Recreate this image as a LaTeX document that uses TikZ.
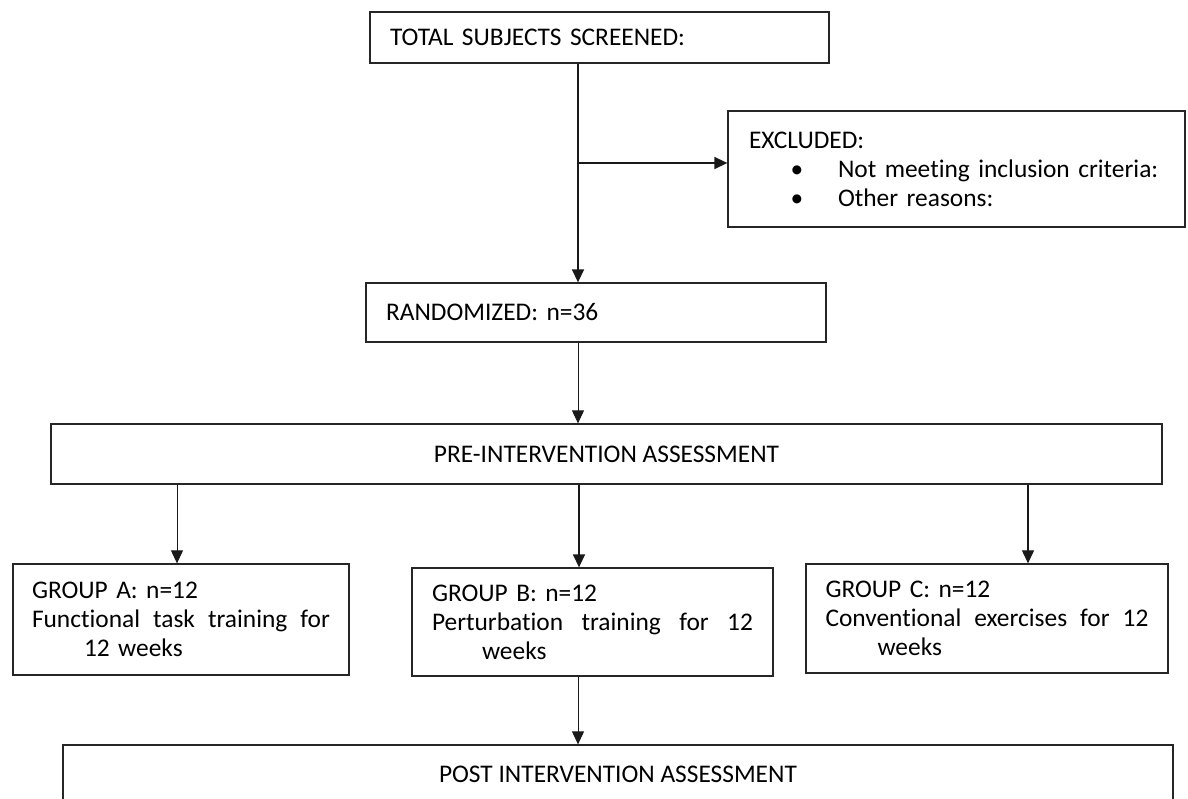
\documentclass[tikz,border=0pt]{standalone}
\usepackage{fontspec}
\setmainfont{Carlito}[Ligatures=NoCommon]
\usetikzlibrary{arrows.meta}
\tikzset{
  box/.style={draw=black!85, line width=1.3pt, rectangle, inner sep=0pt, align=left,
    font=\fontsize{25.4}{29}\selectfont},
  arr/.style={draw=black!90, line width=#1, -{Triangle[length=13pt,width=12pt]}},
  arr/.default=1.4pt
}
\begin{document}
\begin{tikzpicture}[x=1pt,y=-1pt]
\useasboundingbox (0,0) rectangle (1188,799);
\clip (0,0) rectangle (1188,799);
\fill[white] (0,0) rectangle (1188,799);

\coordinate (spine) at (578,0);
\coordinate (xa) at (177,0);
\coordinate (xb) at (579,0);
\coordinate (xc) at (1028,0);
\coordinate (br) at (578,163);

\node[box, minimum width=459pt, minimum height=51pt, text width=419pt] (top) at (599.5,37.5)
  {TOTAL SUBJECTS SCREENED:};

\node[box, minimum width=457pt, minimum height=116pt, text width=415pt] (ex) at (956.5,169)
  {EXCLUDED:\\
   \hspace*{28pt}\makebox[40pt]{•}\hspace*{21pt}Not meeting inclusion criteria:\\
   \hspace*{28pt}\makebox[40pt]{•}\hspace*{21pt}Other reasons:};

\node[box, minimum width=460pt, minimum height=59pt, text width=420pt] (rand) at (596,312.5)
  {RANDOMIZED: n=36};

\node[box, minimum width=1111pt, minimum height=60pt, align=center] (pre) at (606.5,454)
  {PRE-INTERVENTION ASSESSMENT};

\node[box, minimum width=336pt, minimum height=111pt, text width=298pt] (ga) at (181,619.5)
  {GROUP A: n=12\\
   \makebox[298pt]{Functional\hfill task\hfill training\hfill for}\\
   \hspace*{52pt}12 weeks};

\node[box, minimum width=361pt, minimum height=108pt, text width=321pt] (gb) at (592.5,622)
  {GROUP B: n=12\\
   \makebox[321pt]{Perturbation\hfill training\hfill for\hfill 12}\\
   \hspace*{50pt}weeks};

\node[box, minimum width=362pt, minimum height=109pt, text width=323pt] (gc) at (987,618.5)
  {GROUP C: n=12\\
   \makebox[323pt]{Conventional\hfill exercises\hfill for\hfill 12}\\
   \hspace*{52pt}weeks};

\node[box, minimum width=1110pt, minimum height=58pt, align=center] (post) at (618,774)
  {POST INTERVENTION ASSESSMENT};

% connectors
\draw[arr=1.5pt] (top.south -| spine) -- (rand.north -| spine);
\draw[arr=1.5pt] (br) -- (br -| ex.west);
\draw[arr=1.0pt] (rand.south -| spine) -- (pre.north -| spine);
\draw[arr=1.0pt] (pre.south -| xa) -- (ga.north -| xa);
\draw[arr=1.5pt] (pre.south -| xb) -- (gb.north -| xb);
\draw[arr=1.2pt] (pre.south -| xc) -- (gc.north -| xc);
\draw[arr=1.0pt] (gb.south -| spine) -- (post.north -| spine);
\end{tikzpicture}
\end{document}
